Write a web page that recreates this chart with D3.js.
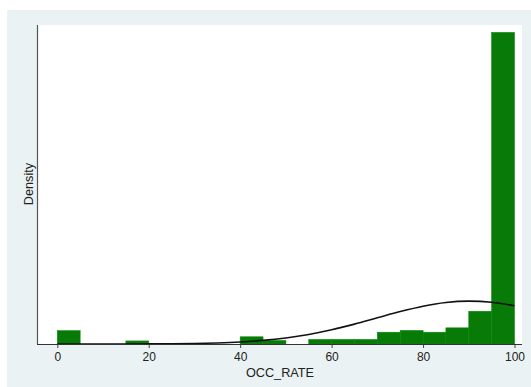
<!DOCTYPE html>
<html>
<head>
<meta charset="utf-8">
<script src="https://cdn.jsdelivr.net/npm/d3@7/dist/d3.min.js"></script>
<style>
  html, body { margin: 0; padding: 0; background: #ffffff; }
  svg { display: block; }
  text { font-family: "Liberation Sans", Arial, sans-serif; fill: #222; }
</style>
</head>
<body>
<svg id="chart" width="531" height="387"></svg>
<script>
// Histogram of OCC_RATE (bin width 5), density scale
const binStarts = [0, 5, 10, 15, 20, 25, 30, 35, 40, 45, 50, 55, 60, 65, 70, 75, 80, 85, 90, 95];
const binDensity = [0.0061, 0, 0, 0.0014, 0, 0, 0, 0, 0.0033, 0.0016, 0, 0.0021, 0.0021, 0.0021,
                    0.0054, 0.0062, 0.0054, 0.0074, 0.0150, 0.1427];
const binWidth = 5;

// Normal density overlay, sampled along the x range
const curveX = [0, 5, 10, 15, 20, 25, 30, 35, 40, 45, 50, 55, 60, 65, 70, 75, 80, 85, 90, 95, 100];
const curveY = [0.000001, 0.000003, 0.000008, 0.000021, 0.00005, 0.000113, 0.000241, 0.000487,
                0.000923, 0.00165, 0.00277, 0.00437, 0.0065, 0.0091, 0.01198, 0.01485, 0.01732,
                0.01902, 0.01965, 0.01911, 0.01749];

const xTicks = [0, 20, 40, 60, 80, 100];
const xTitle = "OCC_RATE";
const yTitle = "Density";

const svg = d3.select("#chart");

// graph region and plot region
svg.append("rect").attr("x", 7).attr("y", 10).attr("width", 524).attr("height", 377).attr("fill", "#eaf2f3");
const plot = { left: 37, right: 522, top: 25, bottom: 344 };
svg.append("rect")
  .attr("x", plot.left).attr("y", plot.top)
  .attr("width", plot.right - plot.left).attr("height", plot.bottom - plot.top)
  .attr("fill", "#ffffff");

const x = d3.scaleLinear().domain([0, 100]).range([57.3, 514.5]);
const y = d3.scaleLinear().domain([0, 0.1461]).range([plot.bottom, plot.top]);

// bars
svg.append("g")
  .selectAll("rect")
  .data(binStarts.map((s, i) => ({ s, d: binDensity[i] })).filter(b => b.d > 0))
  .join("rect")
  .attr("x", b => x(b.s))
  .attr("y", b => y(b.d))
  .attr("width", b => x(b.s + binWidth) - x(b.s))
  .attr("height", b => y(0) - y(b.d))
  .attr("fill", "#077a07")
  .attr("stroke", "#0c8a0c")
  .attr("stroke-width", 0.6);

// normal curve
const line = d3.line()
  .x((d, i) => x(curveX[i]))
  .y(d => y(d))
  .curve(d3.curveCatmullRom);
svg.append("path")
  .datum(curveY)
  .attr("d", line)
  .attr("fill", "none")
  .attr("stroke", "#111")
  .attr("stroke-width", 1.6);

// y axis (no labels)
svg.append("line")
  .attr("x1", plot.left + 0.5).attr("x2", plot.left + 0.5)
  .attr("y1", plot.top).attr("y2", plot.bottom)
  .attr("stroke", "#555").attr("stroke-width", 1.2);

// x axis
const xAxis = d3.axisBottom(x).tickValues(xTicks).tickSize(4).tickPadding(4).tickFormat(d3.format("d"));
const gx = svg.append("g").attr("transform", `translate(0,${plot.bottom})`).call(xAxis);
gx.select(".domain").remove();
gx.selectAll(".tick line").attr("stroke", "#444");
gx.selectAll(".tick text").attr("font-size", 12).attr("fill", "#222")
  .style("font-family", "'Liberation Sans', Arial, sans-serif");
svg.append("line")
  .attr("x1", plot.left).attr("x2", plot.right)
  .attr("y1", plot.bottom + 0.5).attr("y2", plot.bottom + 0.5)
  .attr("stroke", "#333").attr("stroke-width", 1.2);

// titles
svg.append("text")
  .attr("x", 280).attr("y", 377)
  .attr("text-anchor", "middle")
  .attr("font-size", 12.7)
  .text(xTitle);
svg.append("text")
  .attr("transform", "translate(33,184) rotate(-90)")
  .attr("text-anchor", "middle")
  .attr("font-size", 12.7)
  .text(yTitle);
</script>
</body>
</html>
